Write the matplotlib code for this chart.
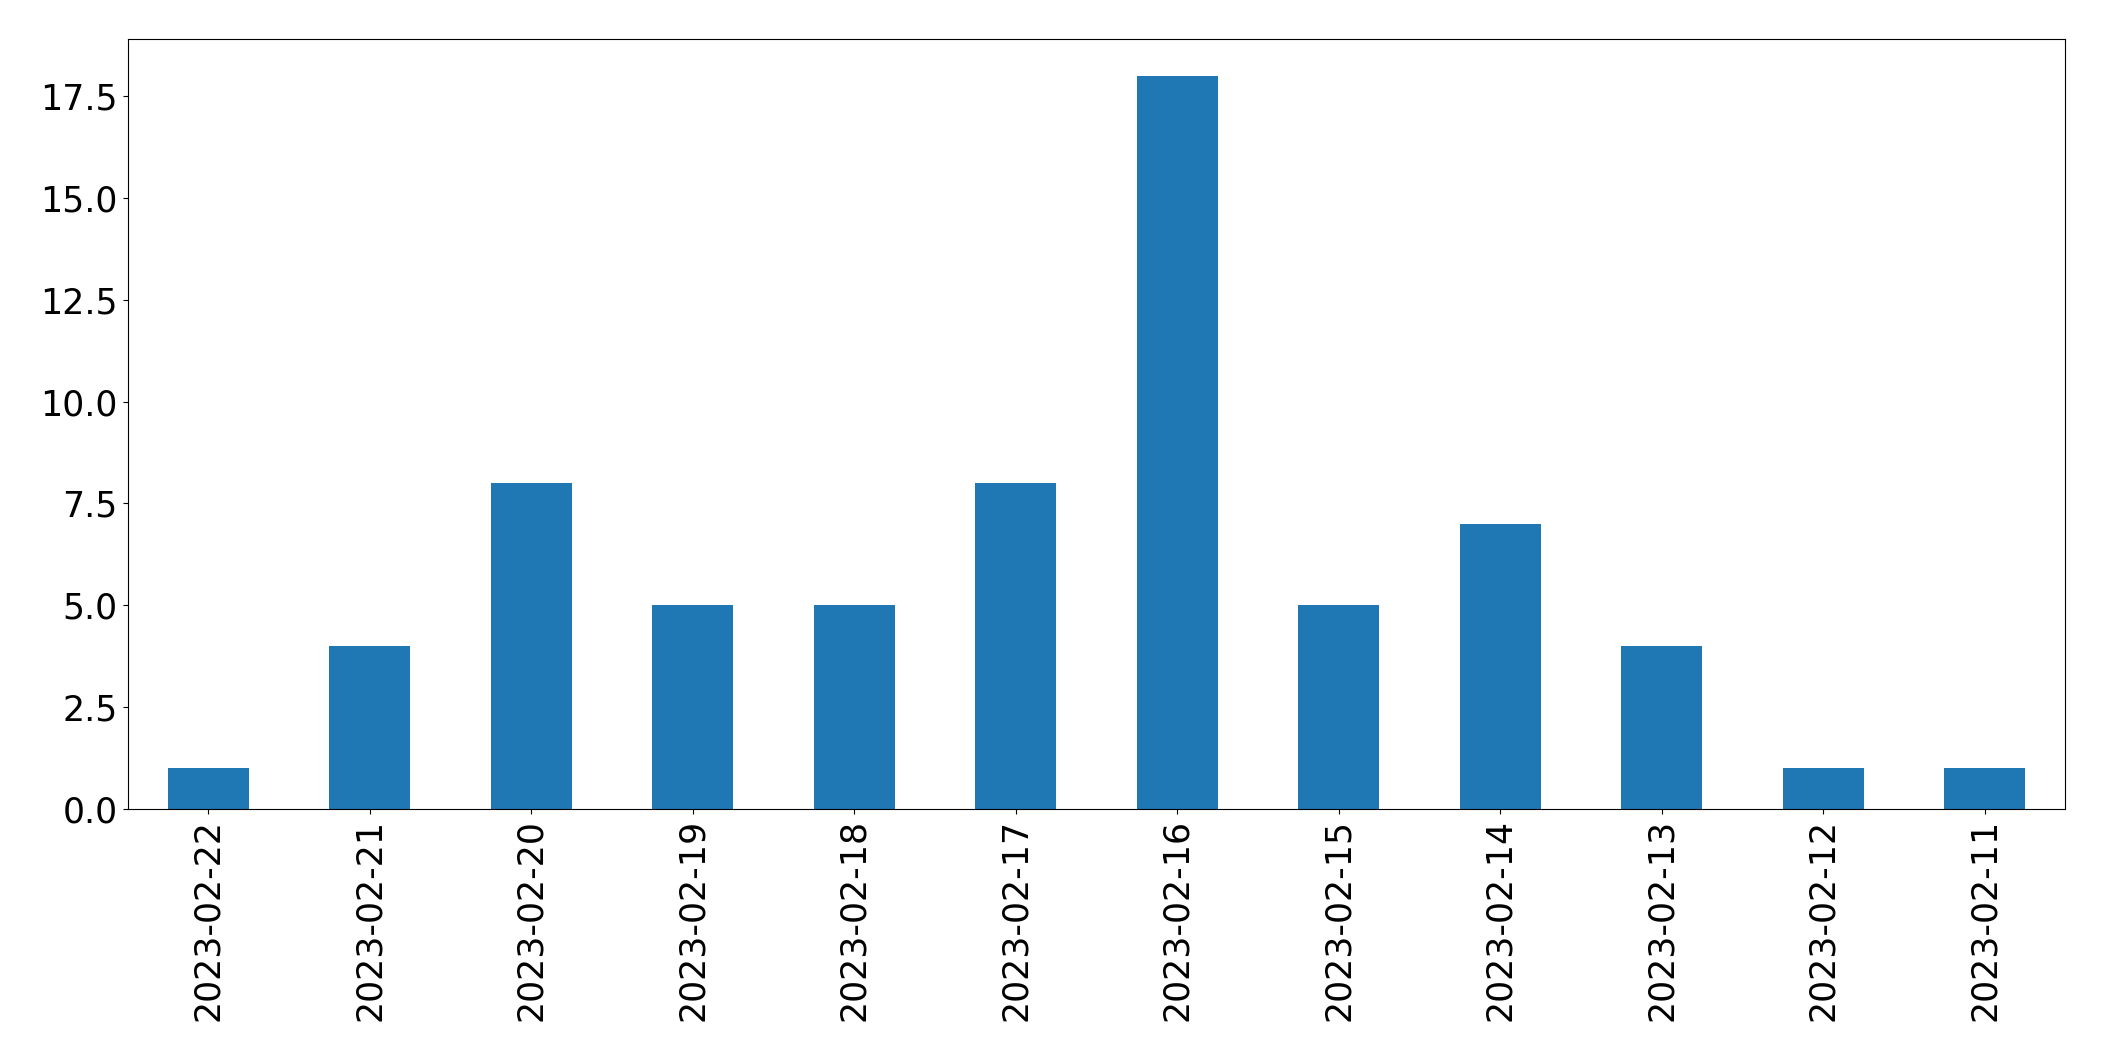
import matplotlib
matplotlib.use("Agg")
import matplotlib.pyplot as plt

dates = ["2023-02-22", "2023-02-21", "2023-02-20", "2023-02-19", "2023-02-18", "2023-02-17",
         "2023-02-16", "2023-02-15", "2023-02-14", "2023-02-13", "2023-02-12", "2023-02-11"]
counts = [1, 4, 8, 5, 5, 8, 18, 5, 7, 4, 1, 1]

fig = plt.figure(figsize=(21.04, 10.61), dpi=100)
ax = fig.add_axes([0.0606, 0.2375, 0.9211, 0.7257])
x = list(range(len(dates)))
ax.bar(x, counts, width=0.5, color="#1f77b4")
ax.set_xlim(-0.5, len(dates) - 0.5)
ax.set_ylim(0, max(counts) * 1.05)
ax.set_xticks(x)
ax.set_xticklabels(dates, rotation=90)
ax.tick_params(axis="both", labelsize=25)
fig.savefig("out.png", dpi=100)
